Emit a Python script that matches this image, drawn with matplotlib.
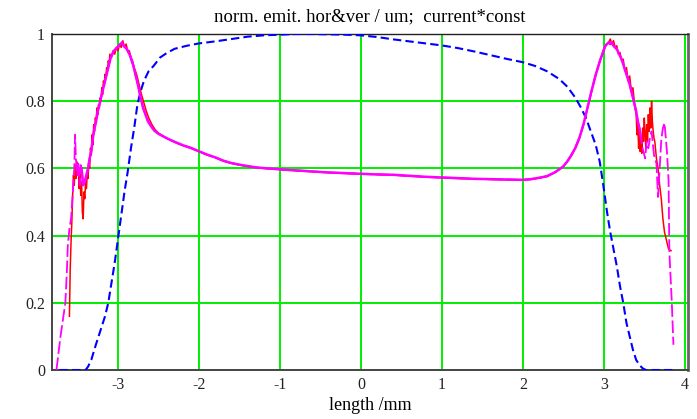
import numpy as np
import matplotlib
matplotlib.use('Agg')
import matplotlib.pyplot as plt

# current profile (blue), normalised
x_cur = [-3.72, -3.40, -3.37, -3.33, -3.28, -3.24, -3.20, -3.16, -3.12, -3.08,
         -3.04, -3.00, -2.96, -2.92, -2.88, -2.84, -2.80, -2.76, -2.72, -2.68,
         -2.62, -2.56, -2.48, -2.40, -2.30, -2.15, -2.00, -1.80, -1.60, -1.40,
         -1.20, -1.00, -0.80, -0.60, -0.40, -0.20, 0.00, 0.20, 0.40, 0.60,
         0.80, 1.00, 1.20, 1.40, 1.60, 1.80, 2.00, 2.15, 2.30, 2.45,
         2.55, 2.65, 2.72, 2.78, 2.84, 2.90, 2.95, 3.00, 3.04, 3.08,
         3.12, 3.16, 3.20, 3.24, 3.28, 3.32, 3.36, 3.40, 3.44, 3.48,
         3.52, 3.88]
current = [0.0, 0.0, 0.01, 0.03, 0.07, 0.10, 0.13, 0.16, 0.20, 0.26,
           0.32, 0.39, 0.46, 0.53, 0.59, 0.66, 0.72, 0.79, 0.83, 0.86,
           0.89, 0.905, 0.93, 0.943, 0.956, 0.965, 0.972, 0.978, 0.985, 0.992,
           0.996, 0.998, 1.0, 1.0, 0.999, 0.998, 0.996, 0.991, 0.984, 0.978,
           0.972, 0.966, 0.958, 0.948, 0.937, 0.926, 0.916, 0.905, 0.889, 0.866,
           0.843, 0.81, 0.78, 0.75, 0.71, 0.67, 0.62, 0.54, 0.47, 0.41,
           0.36, 0.31, 0.25, 0.20, 0.14, 0.10, 0.06, 0.03, 0.015, 0.005,
           0.0, 0.0]

# horizontal emittance (red)
x_hor = [-3.60, -3.59, -3.58, -3.57, -3.56, -3.55, -3.54, -3.53, -3.52, -3.51,
         -3.50, -3.49, -3.48, -3.47, -3.46, -3.45, -3.44, -3.43, -3.42, -3.41,
         -3.40, -3.39, -3.38, -3.37, -3.36, -3.35, -3.34, -3.33, -3.32, -3.31,
         -3.30, -3.29, -3.28, -3.27, -3.26, -3.25, -3.24, -3.23, -3.22, -3.21,
         -3.20, -3.19, -3.18, -3.17, -3.16, -3.15, -3.14, -3.13, -3.12, -3.11,
         -3.10, -3.08, -3.06, -3.04, -3.02, -3.00, -2.98, -2.96, -2.94, -2.92,
         -2.90, -2.88, -2.86, -2.84, -2.82, -2.80, -2.77, -2.74, -2.71, -2.68,
         -2.65, -2.62, -2.58, -2.54, -2.50, -2.40, -2.30, -2.20, -2.10, -2.00,
         -1.90, -1.80, -1.70, -1.60, -1.50, -1.40, -1.30, -1.20, -1.10, -1.00,
         -0.80, -0.60, -0.40, -0.20, 0.00, 0.20, 0.40, 0.60, 0.80, 1.00,
         1.20, 1.40, 1.60, 1.80, 2.00, 2.10, 2.20, 2.30, 2.40, 2.50,
         2.55, 2.60, 2.65, 2.70, 2.75, 2.80, 2.85, 2.90, 2.95, 3.00,
         3.03, 3.06, 3.08, 3.10, 3.12, 3.14, 3.16, 3.18, 3.20, 3.22,
         3.24, 3.26, 3.28, 3.30, 3.32, 3.34, 3.36, 3.38, 3.40, 3.41,
         3.42, 3.43, 3.44, 3.45, 3.46, 3.47, 3.48, 3.49, 3.50, 3.51,
         3.52, 3.53, 3.54, 3.55, 3.56, 3.57, 3.58, 3.59, 3.60, 3.61,
         3.62, 3.63, 3.65, 3.67, 3.69, 3.71, 3.73, 3.75, 3.77, 3.79,
         3.80, 3.83]
emit_hor = [0.16, 0.30, 0.38, 0.44, 0.52, 0.58, 0.55, 0.61, 0.57, 0.62,
            0.58, 0.60, 0.54, 0.59, 0.52, 0.56, 0.47, 0.45, 0.53, 0.51,
            0.56, 0.54, 0.58, 0.57, 0.62, 0.60, 0.66, 0.64, 0.70, 0.67,
            0.73, 0.71, 0.75, 0.74, 0.78, 0.76, 0.79, 0.78, 0.81, 0.80,
            0.84, 0.82, 0.86, 0.85, 0.88, 0.87, 0.90, 0.89, 0.92, 0.91,
            0.94, 0.93, 0.95, 0.94, 0.96, 0.95, 0.97, 0.96, 0.98, 0.96,
            0.97, 0.95, 0.95, 0.93, 0.92, 0.90, 0.88, 0.85, 0.82, 0.795,
            0.77, 0.75, 0.73, 0.715, 0.705, 0.69, 0.678, 0.668, 0.66, 0.65,
            0.64, 0.632, 0.622, 0.615, 0.61, 0.606, 0.603, 0.60, 0.598, 0.597,
            0.593, 0.59, 0.587, 0.585, 0.583, 0.582, 0.58, 0.577, 0.574, 0.572,
            0.57, 0.569, 0.567, 0.566, 0.566, 0.567, 0.571, 0.576, 0.588, 0.605,
            0.62, 0.638, 0.66, 0.69, 0.73, 0.78, 0.83, 0.88, 0.92, 0.955,
            0.97, 0.975, 0.985, 0.97, 0.98, 0.96, 0.965, 0.94, 0.945, 0.92,
            0.925, 0.89, 0.90, 0.86, 0.875, 0.83, 0.84, 0.79, 0.76, 0.70,
            0.74, 0.66, 0.72, 0.65, 0.69, 0.645, 0.72, 0.68, 0.75, 0.70,
            0.66, 0.73, 0.68, 0.76, 0.71, 0.78, 0.72, 0.80, 0.74, 0.71,
            0.69, 0.68, 0.63, 0.60, 0.55, 0.51, 0.45, 0.41, 0.39, 0.37,
            0.36, 0.355]

# vertical emittance (magenta)
x_ver = [-3.76, -3.73, -3.71, -3.68, -3.65, -3.63, -3.62, -3.60, -3.58, -3.56,
         -3.55, -3.54, -3.53, -3.52, -3.51, -3.50, -3.49, -3.48, -3.47, -3.46,
         -3.45, -3.43, -3.41, -3.39, -3.37, -3.35, -3.33, -3.31, -3.29, -3.27,
         -3.25, -3.23, -3.21, -3.19, -3.17, -3.15, -3.13, -3.11, -3.09, -3.07,
         -3.05, -3.03, -3.01, -2.99, -2.97, -2.95, -2.93, -2.91, -2.89, -2.87,
         -2.85, -2.83, -2.81, -2.78, -2.75, -2.72, -2.69, -2.66, -2.63, -2.59,
         -2.55, -2.50, -2.40, -2.30, -2.20, -2.10, -2.00, -1.90, -1.80, -1.70,
         -1.60, -1.50, -1.40, -1.30, -1.20, -1.10, -1.00, -0.80, -0.60, -0.40,
         -0.20, 0.00, 0.20, 0.40, 0.60, 0.80, 1.00, 1.20, 1.40, 1.60,
         1.80, 2.00, 2.10, 2.20, 2.30, 2.40, 2.50, 2.55, 2.60, 2.65,
         2.70, 2.75, 2.80, 2.85, 2.90, 2.95, 3.00, 3.02, 3.04, 3.06,
         3.08, 3.10, 3.12, 3.14, 3.16, 3.18, 3.20, 3.22, 3.24, 3.26,
         3.28, 3.30, 3.32, 3.34, 3.36, 3.38, 3.40, 3.42, 3.44, 3.46,
         3.48, 3.51, 3.53, 3.55, 3.57, 3.59, 3.62, 3.65, 3.67, 3.69,
         3.71, 3.73, 3.75, 3.78, 3.80, 3.81, 3.84, 3.86]
emit_ver = [0.0, 0.06, 0.10, 0.15, 0.20, 0.30, 0.37, 0.42, 0.45, 0.52,
            0.56, 0.60, 0.70, 0.63, 0.60, 0.58, 0.62, 0.57, 0.55, 0.61,
            0.60, 0.55, 0.56, 0.58, 0.60, 0.63, 0.65, 0.69, 0.72, 0.74,
            0.77, 0.79, 0.81, 0.83, 0.85, 0.87, 0.89, 0.91, 0.93, 0.94,
            0.95, 0.955, 0.96, 0.965, 0.97, 0.975, 0.965, 0.96, 0.955, 0.945,
            0.935, 0.92, 0.905, 0.875, 0.845, 0.81, 0.78, 0.76, 0.74, 0.725,
            0.712, 0.703, 0.69, 0.679, 0.669, 0.661, 0.651, 0.641, 0.633, 0.623,
            0.616, 0.611, 0.607, 0.603, 0.601, 0.599, 0.597, 0.594, 0.591, 0.588,
            0.586, 0.584, 0.582, 0.581, 0.578, 0.575, 0.573, 0.571, 0.569, 0.568,
            0.567, 0.566, 0.568, 0.572, 0.577, 0.589, 0.606, 0.621, 0.64, 0.662,
            0.692, 0.732, 0.782, 0.832, 0.878, 0.918, 0.952, 0.965, 0.97, 0.975,
            0.97, 0.975, 0.965, 0.96, 0.955, 0.945, 0.935, 0.925, 0.91, 0.895,
            0.88, 0.865, 0.85, 0.83, 0.81, 0.79, 0.77, 0.74, 0.72, 0.69,
            0.66, 0.63, 0.68, 0.66, 0.69, 0.71, 0.64, 0.615, 0.515, 0.60,
            0.685, 0.72, 0.735, 0.65, 0.565, 0.35, 0.20, 0.075]

x_ticks = [-3, -2, -1, 0, 1, 2, 3, 4]
y_ticks = [0, 0.2, 0.4, 0.6, 0.8, 1]
y_tick_labels = ['0', '0.2', '0.4', '0.6', '0.8', '1']

plt.rcParams['font.family'] = ['Liberation Serif', 'DejaVu Serif']
plt.rcParams['axes.unicode_minus'] = False

fig = plt.figure(figsize=(6.97, 4.19), dpi=100)
ax = fig.add_axes([52 / 697, 49 / 419, 636 / 697, 336 / 419])

ax.grid(True, color='#00ee00', lw=1.4)
ax.set_axisbelow(True)

ax.plot(x_cur, current, color='#0000ff', lw=1.5, ls=(0, (4, 2)), zorder=3)
ax.plot(x_hor, emit_hor, color='#ff0000', lw=1.1, zorder=4)

# dashed for the sparse tails, solid where the points are dense
xv = np.array(x_ver)
ev = np.array(emit_ver)
ax.plot(xv, ev, color='#ff00ff', lw=1.3, ls=(0, (7, 2)), zorder=5)
core = (xv > -3.46) & (xv < 3.47)
ax.plot(xv[core], ev[core], color='#ff00ff', lw=1.8, zorder=5)

ax.set_xlim(-3.815, 4.04)
ax.set_ylim(0, 1)
ax.set_xticks(x_ticks)
ax.set_yticks(y_ticks)
ax.set_yticklabels(y_tick_labels)
ax.tick_params(length=0, labelsize=11.5, pad=5, colors='#222222')

for side in ['left', 'bottom']:
    ax.spines[side].set_color('#444444')
    ax.spines[side].set_linewidth(1.4)
ax.spines['top'].set_color('#222222')
ax.spines['top'].set_linewidth(1.0)
ax.spines['right'].set_color('#666666')
ax.spines['right'].set_linewidth(2.0)

ax.set_title('norm. emit. hor&ver / um;  current*const', fontsize=13.5, pad=9)
ax.set_xlabel('length /mm', fontsize=13, labelpad=3)

fig.savefig('out.png', dpi=100)
